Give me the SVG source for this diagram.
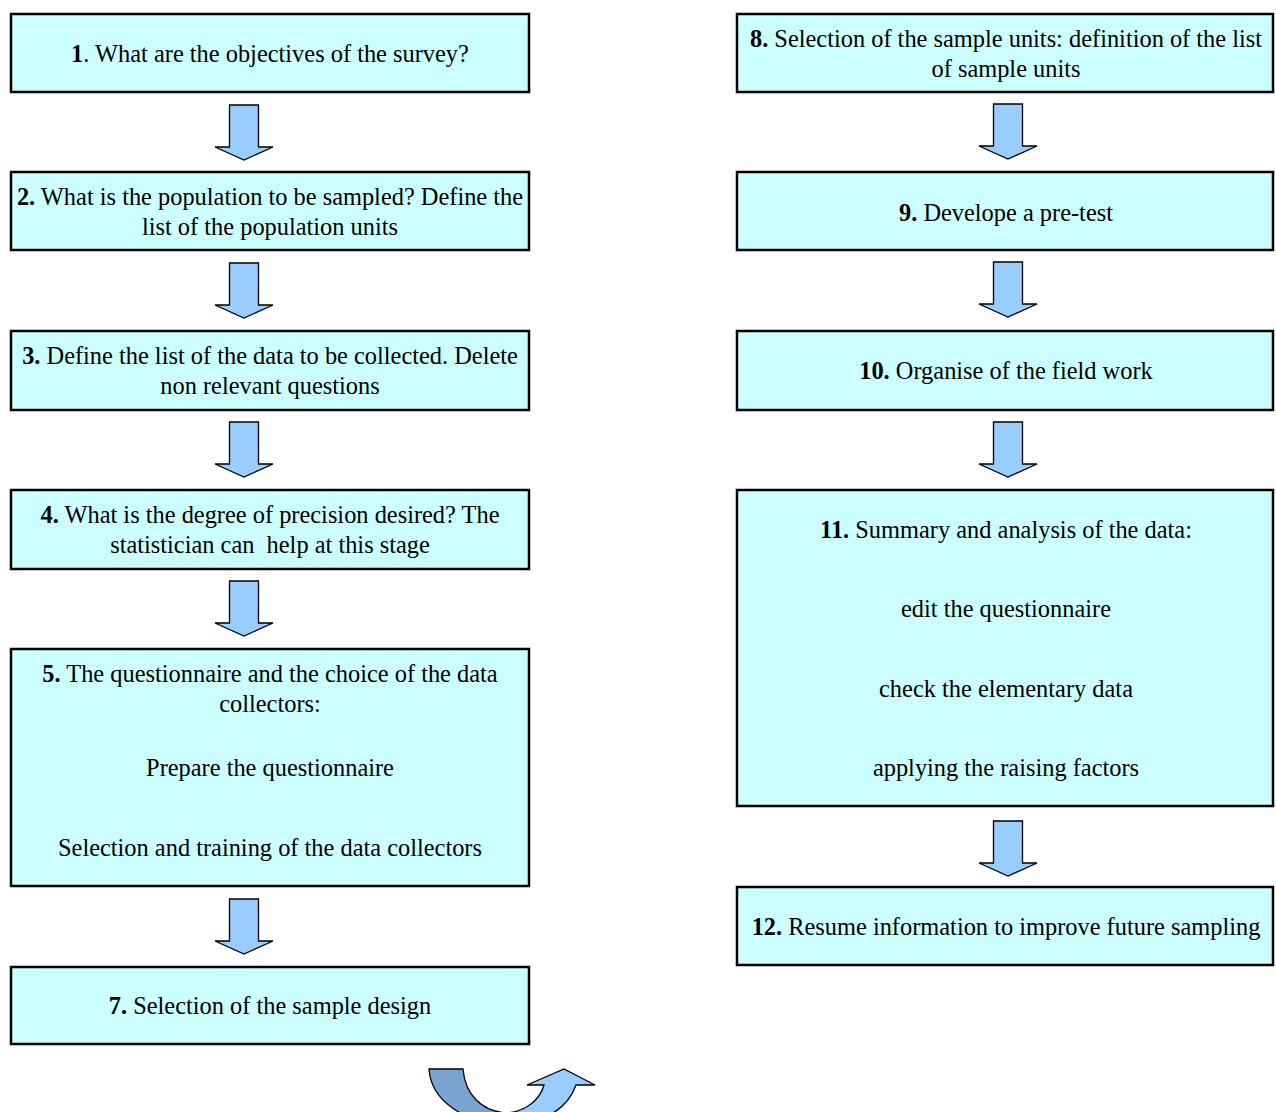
<svg xmlns="http://www.w3.org/2000/svg" width="1276" height="1112" viewBox="0 0 1276 1112">
<style>
.box{fill:#CCFFFF;stroke:#000;stroke-width:2.5}
.t{font-family:"Liberation Serif","Times New Roman",serif;font-size:24.4px;fill:#000;text-anchor:middle;white-space:pre}
.b{font-weight:bold}
.arr{fill:#99CCFF;stroke:#000;stroke-width:1.3;stroke-linejoin:miter}
</style>
<defs>
<path id="down" d="M-14.5,0 L14.5,0 L14.5,42 L29,42 L0,55 L-29,42 L-14.5,42 Z"/>
</defs>
<rect width="1276" height="1112" fill="#fff"/>
<g id="connectors">
<use href="#down" class="arr" x="244" y="105"/>
<use href="#down" class="arr" x="244" y="263"/>
<use href="#down" class="arr" x="244" y="422"/>
<use href="#down" class="arr" x="244" y="581"/>
<use href="#down" class="arr" x="244" y="899"/>
<use href="#down" class="arr" x="1008" y="104"/>
<use href="#down" class="arr" x="1008" y="262"/>
<use href="#down" class="arr" x="1008" y="422"/>
<use href="#down" class="arr" x="1008" y="821"/>
<line x1="215" y1="1043" x2="273" y2="1043" stroke="#000" stroke-width="3"/>
<g id="uturn">
<path d="M429,1069 L463,1069 C465,1095 482,1111 506,1113 L506,1125 C462,1122 431,1100 429,1069 Z" fill="#7BA3D0" stroke="#000" stroke-width="1.3"/>
<path d="M506,1113 C525,1112 540,1100 544,1085 L527,1085 L564,1069 L595,1085 L576,1085 C568,1108 545,1124 506,1125 Z" fill="#99CCFF" stroke="#000" stroke-width="1.3"/>
</g>
</g>
<g id="node1">
<rect class="box" x="11" y="14" width="518" height="78"/>
<text class="t" x="270" y="62"><tspan class="b">1</tspan>. What are the objectives of the survey?</text>
</g>
<g id="node2">
<rect class="box" x="11" y="172" width="518" height="78"/>
<text class="t" x="270" y="205"><tspan class="b">2.</tspan> What is the population to be sampled? Define the</text>
<text class="t" x="270" y="235">list of the population units</text>
</g>
<g id="node3">
<rect class="box" x="11" y="331" width="518" height="79"/>
<text class="t" x="270" y="364"><tspan class="b">3.</tspan> Define the list of the data to be collected. Delete</text>
<text class="t" x="270" y="394">non relevant questions</text>
</g>
<g id="node4">
<rect class="box" x="11" y="490" width="518" height="79"/>
<text class="t" x="270" y="523"><tspan class="b">4.</tspan> What is the degree of precision desired? The</text>
<text class="t" x="270" y="553">statistician can  help at this stage</text>
</g>
<g id="node5">
<rect class="box" x="11" y="649" width="518" height="237"/>
<text class="t" x="270" y="682"><tspan class="b">5.</tspan> The questionnaire and the choice of the data</text>
<text class="t" x="270" y="712">collectors:</text>
<text class="t" x="270" y="776">Prepare the questionnaire</text>
<text class="t" x="270" y="856">Selection and training of the data collectors</text>
</g>
<g id="node7">
<rect class="box" x="11" y="967" width="518" height="77"/>
<text class="t" x="270" y="1014"><tspan class="b">7.</tspan> Selection of the sample design</text>
</g>
<g id="node8">
<rect class="box" x="737" y="14" width="536" height="78"/>
<text class="t" x="1006" y="47"><tspan class="b">8.</tspan> Selection of the sample units: definition of the list</text>
<text class="t" x="1006" y="77">of sample units</text>
</g>
<g id="node9">
<rect class="box" x="737" y="172" width="536" height="78"/>
<text class="t" x="1006" y="221"><tspan class="b">9.</tspan> Develope a pre-test</text>
</g>
<g id="node10">
<rect class="box" x="737" y="331" width="536" height="79"/>
<text class="t" x="1006" y="379"><tspan class="b">10.</tspan> Organise of the field work</text>
</g>
<g id="node11">
<rect class="box" x="737" y="490" width="536" height="316"/>
<text class="t" x="1006" y="538"><tspan class="b">11.</tspan> Summary and analysis of the data:</text>
<text class="t" x="1006" y="617">edit the questionnaire</text>
<text class="t" x="1006" y="697">check the elementary data</text>
<text class="t" x="1006" y="776">applying the raising factors</text>
</g>
<g id="node12">
<rect class="box" x="737" y="887" width="536" height="78"/>
<text class="t" x="1006" y="935"><tspan class="b">12.</tspan> Resume information to improve future sampling</text>
</g>
</svg>
